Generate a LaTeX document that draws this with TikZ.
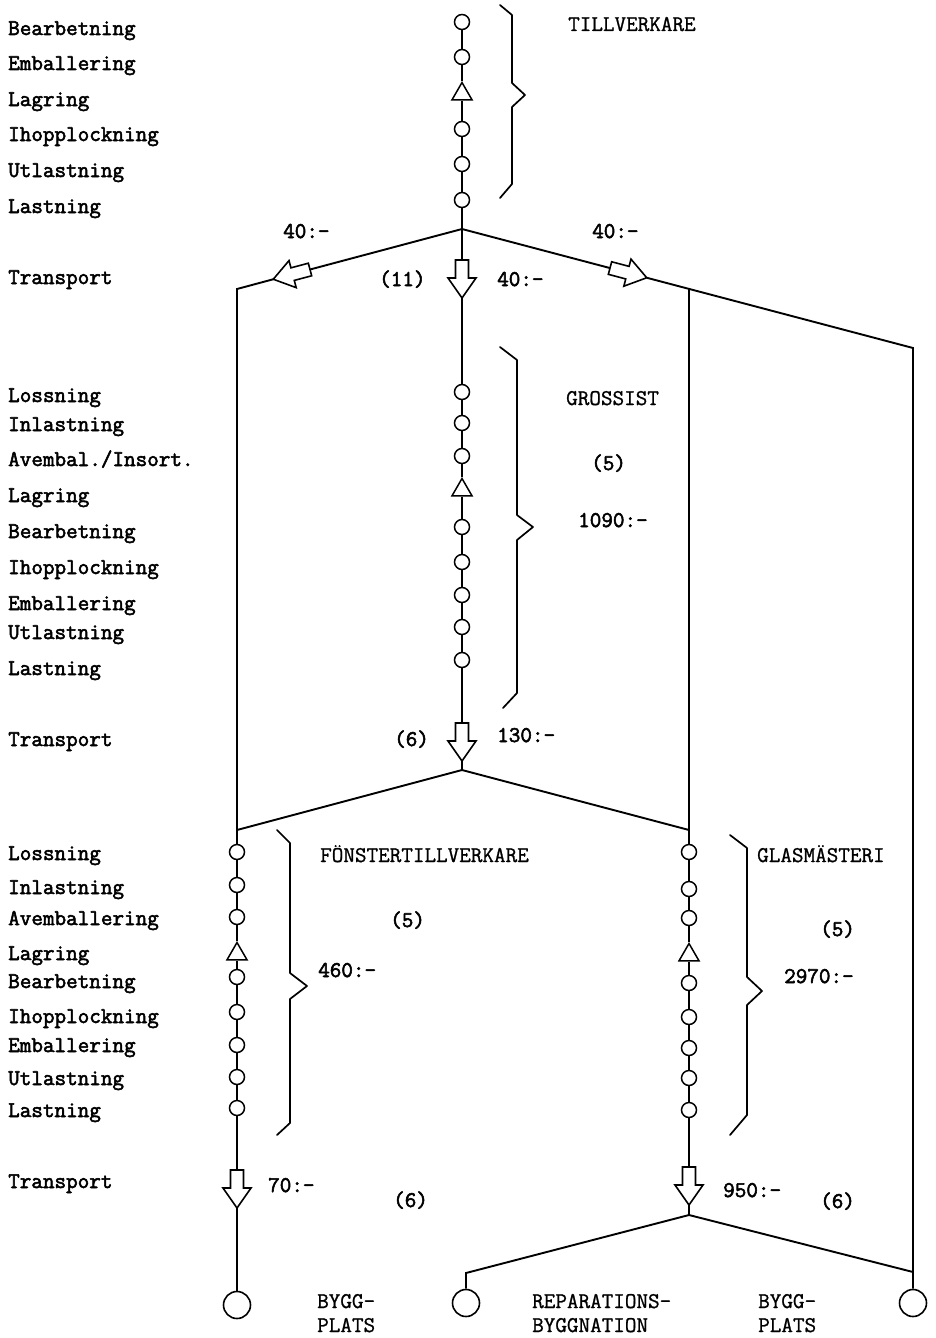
\documentclass[tikz,border=0pt]{standalone}
\usepackage{fontspec}
\newfontfamily\typew{Latin Modern Mono}[AutoFakeBold=2.4]
\newfontfamily\typewcap{Latin Modern Mono}[AutoFakeBold=1.0]
\usetikzlibrary{shapes.geometric}
\begin{document}
\begin{tikzpicture}[x=1pt,y=-1pt,
  flow/.style={line width=1.9pt,line join=miter},
  op/.style={circle,draw,line width=1.5pt,fill=white,minimum size=15pt,inner sep=0pt},
  store/.style={regular polygon,regular polygon sides=3,draw,line width=1.5pt,fill=white,minimum size=23pt,inner sep=0pt},
  site/.style={circle,draw,line width=1.6pt,fill=white,minimum size=27pt,inner sep=0pt},
  brace/.style={line width=1.7pt,line join=round,line cap=round},
  lbl/.style={anchor=base west,inner sep=0pt,font=\typew\bfseries\fontsize{22.5}{24}\selectfont},
  stagename/.style={anchor=base west,inner sep=0pt,font=\typewcap\bfseries\fontsize{22.5}{24}\selectfont},
  blockarrow/.pic={
    \filldraw[fill=white,line width=1.6pt,line join=miter]
      (0,-6.5) -- (18,-6.5) -- (18,-14) -- (38,0) -- (18,14) -- (18,6.5) -- (0,6.5) -- cycle;
    \coordinate (-tail) at (0,0);
    \coordinate (-tip) at (38,0);
  }]
\useasboundingbox (0,0) rectangle (935,1338);

% ---------- TILLVERKARE chain ----------
\node[op] (t1) at (462,22) {};
\node[op] (t2) at (462,57) {};
\node[store] (t3) at (462,94) {};
\node[op] (t4) at (462,129) {};
\node[op] (t5) at (462,164) {};
\node[op] (t6) at (462,200) {};
\coordinate (T) at (462,229);

% transport arrows out of the manufacturer
\pic[rotate=-90] (aM) at (462,260) {blockarrow};
\pic[rotate=194.87] (aL) at (310,269.5) {blockarrow};
\pic[rotate=-14.78] (aR) at (610,268.06) {blockarrow};
\coordinate (L1) at (237,289);
\coordinate (R1) at (689,288.9);
\coordinate (R2) at (913,348);

% ---------- GROSSIST chain ----------
\node[op] (g1) at (462,392) {};
\node[op] (g2) at (462,423) {};
\node[op] (g3) at (462,456) {};
\node[store] (g4) at (462,490) {};
\node[op] (g5) at (462,527) {};
\node[op] (g6) at (462,562) {};
\node[op] (g7) at (462,595) {};
\node[op] (g8) at (462,627) {};
\node[op] (g9) at (462,660) {};
\pic[rotate=-90] (aG) at (462,723) {blockarrow};
\coordinate (G) at (462,770);
\coordinate (Lb) at (237,830);
\coordinate (Rb) at (689,830);

% ---------- FÖNSTERTILLVERKARE chain ----------
\node[op] (f1) at (237,852) {};
\node[op] (f2) at (237,885) {};
\node[op] (f3) at (237,917) {};
\node[store] (f4) at (237,954) {};
\node[op] (f5) at (237,977) {};
\node[op] (f6) at (237,1012) {};
\node[op] (f7) at (237,1045) {};
\node[op] (f8) at (237,1077) {};
\node[op] (f9) at (237,1108) {};
\pic[rotate=-90] (aF) at (237,1170) {blockarrow};
\node[site] (e1) at (237,1305) {};

% ---------- GLASMÄSTERI chain ----------
\node[op] (s1) at (689,852) {};
\node[op] (s2) at (689,889) {};
\node[op] (s3) at (689,918) {};
\node[store] (s4) at (689,955) {};
\node[op] (s5) at (689,983) {};
\node[op] (s6) at (689,1017) {};
\node[op] (s7) at (689,1048) {};
\node[op] (s8) at (689,1078) {};
\node[op] (s9) at (689,1110) {};
\pic[rotate=-90] (aS) at (689,1167) {blockarrow};
\coordinate (B) at (689,1215);
\coordinate (Bl) at (466,1273);
\coordinate (Br) at (913,1272);
\node[site] (e2) at (466,1303) {};
\node[site] (e3) at (913,1303) {};

% ---------- flow lines ----------
\foreach \a/\b in {t1/t2,t2/t3,t3/t4,t4/t5,t5/t6,
                   g1/g2,g2/g3,g3/g4,g4/g5,g5/g6,g6/g7,g7/g8,g8/g9,
                   f1/f2,f2/f3,f3/f4,f4/f5,f5/f6,f6/f7,f7/f8,f8/f9,
                   s1/s2,s2/s3,s3/s4,s4/s5,s5/s6,s6/s7,s7/s8,s8/s9}
  \draw[flow] (\a) -- (\b);
\draw[flow] (t6) -- (T) -- (aM-tail);
\draw[flow] (aL-tail) -- (T) -- (aR-tail);
\draw[flow] (aM-tip) -- (g1);
\draw[flow] (aL-tip) -- (L1) -- (Lb) -- (f1);
\draw[flow] (aR-tip) -- (R1) -- (R2) -- (e3);
\draw[flow] (R1) -- (Rb) -- (s1);
\draw[flow] (g9) -- (aG-tail);
\draw[flow] (Lb) -- (G) -- (Rb);
\draw[flow] (aG-tip) -- (G);
\draw[flow] (f9) -- (aF-tail);
\draw[flow] (aF-tip) -- (e1);
\draw[flow] (s9) -- (aS-tail);
\draw[flow] (aS-tip) -- (B);
\draw[flow] (e2) -- (Bl) -- (B) -- (Br);

% ---------- braces ----------
\draw[brace] (500,5) -- (512,15) -- (512,83) -- (525,95) -- (512,107) -- (512,184) -- (500,198);
\draw[brace] (500,347) -- (517,360) -- (517,515) -- (533,527) -- (517,540) -- (517,693) -- (503,708);
\draw[brace] (277,830) -- (290,843) -- (290,973) -- (307,986) -- (290,999) -- (290,1123) -- (277,1135);
\draw[brace] (730,835) -- (747,848) -- (747,977) -- (762,991) -- (747,1005) -- (747,1115) -- (730,1135);

% ---------- activity labels ----------
\node[lbl] (l01) at (8,35) {Bearbetning};
\node[lbl] (l02) at (8,70) {Emballering};
\node[lbl] (l03) at (8,106) {Lagring};
\node[lbl] (l04) at (8,141) {Ihopplockning};
\node[lbl] (l05) at (8,177) {Utlastning};
\node[lbl] (l06) at (8,213) {Lastning};
\node[lbl] (l07) at (8,284) {Transport};

\node[lbl] (l11) at (8,402) {Lossning};
\node[lbl] (l12) at (8,431) {Inlastning};
\node[lbl] (l13) at (8,466) {Avembal./Insort.};
\node[lbl] (l14) at (8,502) {Lagring};
\node[lbl] (l15) at (8,538) {Bearbetning};
\node[lbl] (l16) at (8,574) {Ihopplockning};
\node[lbl] (l17) at (8,610) {Emballering};
\node[lbl] (l18) at (8,639) {Utlastning};
\node[lbl] (l19) at (8,675) {Lastning};
\node[lbl] (l20) at (8,746) {Transport};

\node[lbl] (l21) at (8,860) {Lossning};
\node[lbl] (l22) at (8,894) {Inlastning};
\node[lbl] (l23) at (8,925) {Avemballering};
\node[lbl] (l24) at (8,960) {Lagring};
\node[lbl] (l25) at (8,988) {Bearbetning};
\node[lbl] (l26) at (8,1023) {Ihopplockning};
\node[lbl] (l27) at (8,1052) {Emballering};
\node[lbl] (l28) at (8,1085) {Utlastning};
\node[lbl] (l29) at (8,1117) {Lastning};
\node[lbl] (l30) at (8,1188) {Transport};

% ---------- stage names ----------
\node[stagename] (n1) at (568,31) {TILLVERKARE};
\node[stagename] (n2) at (566,405) {GROSSIST};
\node[stagename] (n3) at (320,862) {FÖNSTERTILLVERKARE};
\node[stagename] (n4) at (757,862) {GLASMÄSTERI};
\node[stagename] (n5) at (317,1308) {BYGG-};
\node[stagename] (n6) at (317,1332) {PLATS};
\node[stagename] (n7) at (532,1308) {REPARATIONS-};
\node[stagename] (n8) at (532,1332) {BYGGNATION};
\node[stagename] (n9) at (758,1308) {BYGG-};
\node[stagename] (n10) at (758,1332) {PLATS};

% ---------- costs and counts ----------
\node[lbl] (c1) at (283,238) {40:-};
\node[lbl] (c2) at (592,238) {40:-};
\node[lbl] (c3) at (379,286) {(11)};
\node[lbl] (c4) at (497,286) {40:-};
\node[lbl] (c5) at (591,470) {(5)};
\node[lbl] (c6) at (578,527) {1090:-};
\node[lbl] (c7) at (394,746) {(6)};
\node[lbl] (c8) at (497,742) {130:-};
\node[lbl] (c9) at (390,927) {(5)};
\node[lbl] (c10) at (318,977) {460:-};
\node[lbl] (c11) at (820,936) {(5)};
\node[lbl] (c12) at (784,983) {2970:-};
\node[lbl] (c13) at (268,1192) {70:-};
\node[lbl] (c14) at (393,1207) {(6)};
\node[lbl] (c15) at (723,1197) {950:-};
\node[lbl] (c16) at (820,1208) {(6)};
\end{tikzpicture}
\end{document}
